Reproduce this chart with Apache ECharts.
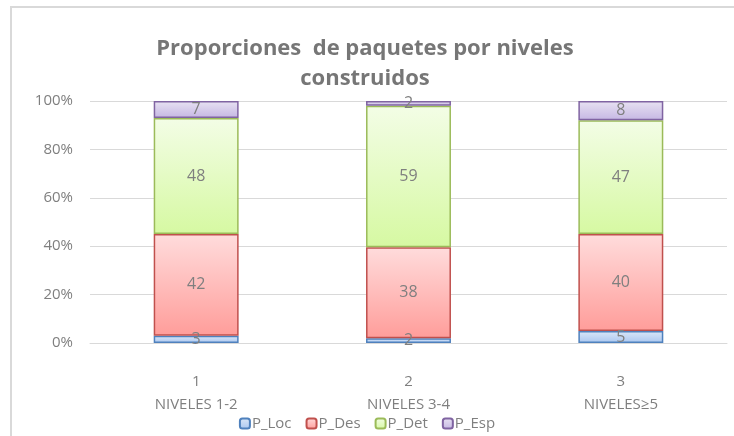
<!DOCTYPE html>
<html>
<head>
<meta charset="utf-8">
<script src="https://cdn.jsdelivr.net/npm/echarts@6/dist/echarts.min.js"></script>
<style>
    html, body { margin: 0; padding: 0; background: #fff; }
    #chart { width: 734px; height: 436px; }
</style>
</head>
<body>
<div id="chart"></div>
<script>
    var categories = ['1\nNIVELES 1-2', '2\nNIVELES 3-4', '3\nNIVELES≥5'];
    var pLoc = [3, 2, 5];
    var pDes = [42, 38, 40];
    var pDet = [48, 59, 47];
    var pEsp = [7, 2, 8];
    var yTicks = [0, 20, 40, 60, 80, 100];

    var chart = echarts.init(document.getElementById('chart'));

    // Excel normaliza cada columna al 100 %
    var totals = categories.map(function (c, i) {
        return pLoc[i] + pDes[i] + pDet[i] + pEsp[i];
    });
    function pct(arr) {
        return arr.map(function (v, i) {
            return { value: v / totals[i] * 100, raw: v };
        });
    }
    function grad(top, bottom) {
        return new echarts.graphic.LinearGradient(0, 0, 0, 1, [
            { offset: 0, color: top },
            { offset: 1, color: bottom }
        ]);
    }
    function serie(name, data, top, bottom, border) {
        return {
            name: name,
            type: 'bar',
            stack: 'total',
            barWidth: '40%',
            data: pct(data),
            itemStyle: {
                color: grad(top, bottom),
                borderColor: border,
                borderWidth: 1.5
            },
            label: {
                show: true,
                position: 'inside',
                color: '#7f7f7f',
                fontSize: 16,
                fontFamily: 'Open Sans',
                formatter: function (p) { return p.data.raw; }
            }
        };
    }

    var option = {
        animation: false,
        title: {
            text: 'Proporciones  de paquetes por niveles\nconstruidos',
            left: 360,
            textAlign: 'center',
            top: 29,
            textStyle: {
                color: '#767676',
                fontSize: 22,
                fontWeight: 'bold',
                fontFamily: 'Open Sans',
                lineHeight: 30
            }
        },
        legend: {
            top: 411,
            left: 'center',
            itemWidth: 10,
            itemHeight: 10,
            itemGap: 14,
            textStyle: { color: '#7f7f7f', fontSize: 15, fontFamily: 'Open Sans', padding: [0, 0, 0, -3] },
            data: ['P_Loc', 'P_Des', 'P_Det', 'P_Esp']
        },
        grid: { left: 90, right: 7, top: 101, bottom: 93 },
        xAxis: {
            type: 'category',
            data: categories,
            axisLine: { lineStyle: { color: '#d9d9d9' } },
            axisTick: { show: false },
            axisLabel: {
                color: '#7f7f7f',
                fontSize: 15,
                fontFamily: 'Open Sans',
                lineHeight: 23,
                margin: 27
            }
        },
        yAxis: {
            type: 'value',
            min: yTicks[0],
            max: yTicks[yTicks.length - 1],
            interval: 20,
            axisLine: { show: false },
            axisTick: { show: false },
            splitLine: { lineStyle: { color: '#d9d9d9' } },
            axisLabel: {
                color: '#7f7f7f',
                fontSize: 15,
                fontFamily: 'Open Sans',
                margin: 17,
                formatter: '{value}%'
            }
        },
        series: [
            serie('P_Loc', pLoc, '#dce8f8', '#a9c6f0', '#4f81bd'),
            serie('P_Des', pDes, '#ffdcdc', '#ff9d9a', '#c0504d'),
            serie('P_Det', pDet, '#f3fde6', '#d6f9a2', '#9bbb59'),
            serie('P_Esp', pEsp, '#e8e2f2', '#c5b7e3', '#8064a2')
        ],
        graphic: [{
            type: 'polyline',
            shape: { points: [[11, 436], [11, 7], [734, 7]] },
            style: { stroke: '#d9d9d9', lineWidth: 2, fill: null }
        }]
    };
    chart.setOption(option);
</script>
</body>
</html>
